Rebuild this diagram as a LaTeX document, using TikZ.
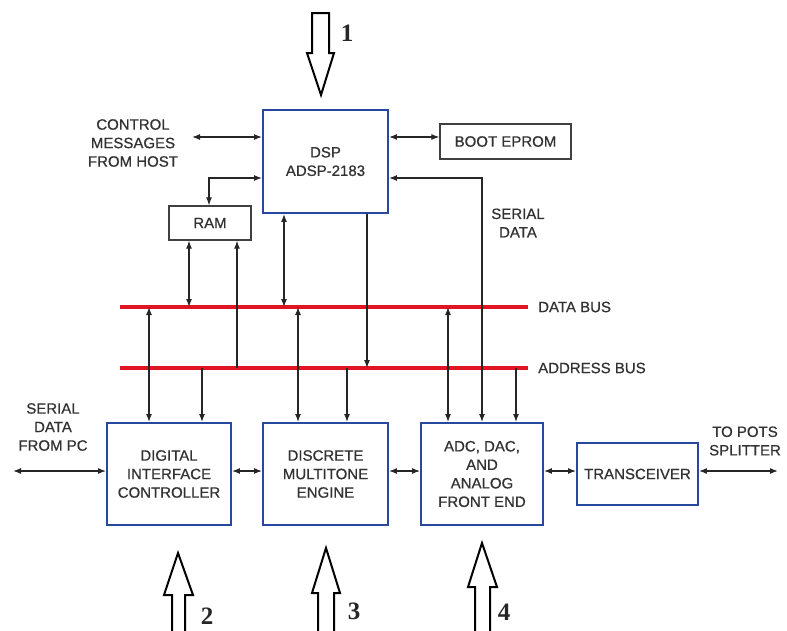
\documentclass[tikz,border=0pt]{standalone}
\usepackage{fontspec}
\setmainfont{Liberation Sans}[FakeBold=0.7]
\newfontfamily\numfont{Liberation Serif}
\usetikzlibrary{arrows.meta}
\definecolor{boxblue}{RGB}{40,72,160}
\definecolor{busred}{RGB}{225,20,35}
\definecolor{txt}{RGB}{50,50,50}
\begin{document}
\begin{tikzpicture}[x=1pt,y=-1pt,
  >={Latex[length=8pt,width=6pt]},
  every node/.style={font=\fontsize{15}{18.5}\selectfont, text=txt, align=center, inner sep=0pt},
  bluebox/.style={draw=boxblue, line width=1.9pt, fill=white},
  blackbox/.style={draw=black!75, line width=1.3pt, fill=white},
  conn/.style={draw=black!85, line width=1.2pt},
  bus/.style={draw=busred, line width=4.5pt},
  hollow/.style={draw=black, line width=2pt, fill=white, line join=miter},
  numlbl/.style={font=\numfont\bfseries\fontsize{25}{25}\selectfont, text=black!85}]
\useasboundingbox (0,0) rectangle (787,630);

% boxes
\node[bluebox, minimum width=125pt, minimum height=103pt] (DSP) at (325.5,161.5) {DSP\\ADSP-2183};
\node[blackbox, minimum width=82pt, minimum height=34pt] (RAM) at (210,223) {RAM};
\node[blackbox, minimum width=131pt, minimum height=35pt] (BOOT) at (505.5,141.5) {BOOT EPROM};
\node[bluebox, minimum width=124pt, minimum height=102pt] (DIC) at (169,474) {DIGITAL\\INTERFACE\\CONTROLLER};
\node[bluebox, minimum width=125pt, minimum height=102pt] (DMT) at (325.5,474) {DISCRETE\\MULTITONE\\ENGINE};
\node[bluebox, minimum width=122pt, minimum height=102pt] (ADC) at (482,474) {ADC, DAC,\\AND\\ANALOG\\FRONT END};
\node[bluebox, minimum width=121pt, minimum height=62pt] (TRX) at (637.5,474) {TRANSCEIVER};

% labels
\node (ctl) at (133,143) {CONTROL\\MESSAGES\\FROM HOST};
\node (ser) at (518,223) {SERIAL\\DATA};
\node (pc) at (53,427) {SERIAL\\DATA\\FROM PC};
\node (pots) at (745,441) {TO POTS\\SPLITTER};

% buses
\coordinate (db1) at (120,307);
\coordinate (db2) at (528,307);
\coordinate (ab1) at (120,368);
\coordinate (ab2) at (528,368);
\draw[bus] (db1) -- (db2);
\draw[bus] (ab1) -- (ab2);
\node[anchor=west] (dbl) at (538,307) {DATA BUS};
\node[anchor=west] (abl) at (538,368) {ADDRESS BUS};

% free ends
\coordinate (c1) at (192,137);
\coordinate (pcend) at (13,471);
\coordinate (potsend) at (778,471);

% DSP connectors
\draw[conn,<->] (c1) -- (c1 -| DSP.west);
\draw[conn,<->] (DSP.east |- c1) -- (BOOT.west |- c1);
\draw[conn,<->] (DSP.west |- 0,178) -| (209,0 |- RAM.north);
\draw[conn,<->] (DSP.east |- 0,178) -| (482,0 |- ADC.north);
\draw[conn,<->] (284,0 |- DSP.south) -- (284,0 |- db1);
\draw[conn,->] (367,0 |- DSP.south) -- (367,0 |- ab1);

% RAM connectors
\draw[conn,<->] (189,0 |- RAM.south) -- (189,0 |- db1);
\draw[conn,<-] (237,0 |- RAM.south) -- (237,0 |- ab1);

% bottom box bus connectors
\draw[conn,<->] (149,0 |- db1) -- (149,0 |- DIC.north);
\draw[conn,->] (202,0 |- ab1) -- (202,0 |- DIC.north);
\draw[conn,<->] (298,0 |- db1) -- (298,0 |- DMT.north);
\draw[conn,->] (347,0 |- ab1) -- (347,0 |- DMT.north);
\draw[conn,<->] (448,0 |- db1) -- (448,0 |- ADC.north);
\draw[conn,->] (516,0 |- ab1) -- (516,0 |- ADC.north);

% horizontal chain
\draw[conn,<->] (pcend) -- (pcend -| DIC.west);
\draw[conn,<->] (DIC.east |- pcend) -- (DMT.west |- pcend);
\draw[conn,<->] (DMT.east |- pcend) -- (ADC.west |- pcend);
\draw[conn,<->] (ADC.east |- pcend) -- (TRX.west |- pcend);
\draw[conn,<->] (TRX.east |- potsend) -- (potsend);

% hollow arrows
\draw[hollow] (312,13) -- (329,13) -- (329,53) -- (334,53) -- (321,95) -- (307,53) -- (312,53) -- cycle;
\node[numlbl] (n1) at (347,33) {1};
\draw[hollow] (172,632) -- (172,595) -- (164,595) -- (178,553) -- (193,595) -- (185,595) -- (185,632);
\node[numlbl] (n2) at (207,616) {2};
\draw[hollow] (318,632) -- (318,593) -- (312,593) -- (326,548) -- (340,593) -- (334,593) -- (334,632);
\node[numlbl] (n3) at (354,611) {3};
\draw[hollow] (475,632) -- (475,587) -- (468,587) -- (482,543) -- (497,587) -- (490,587) -- (490,632);
\node[numlbl] (n4) at (504,612) {4};
\end{tikzpicture}
\end{document}
